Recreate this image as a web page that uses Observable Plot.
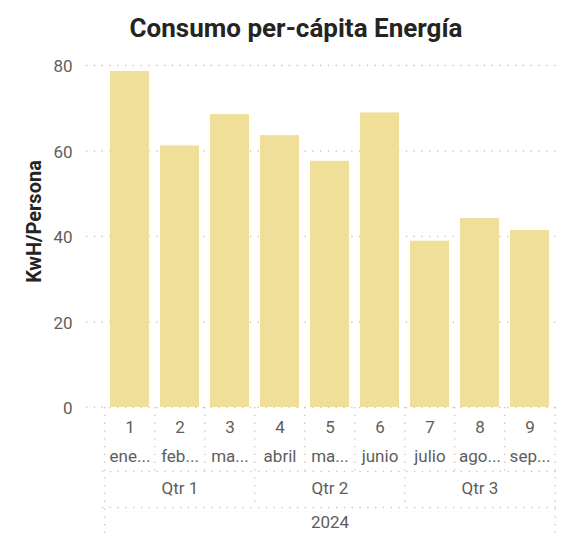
<!DOCTYPE html>
<html>
<head>
<meta charset="utf-8">
<script src="https://cdn.jsdelivr.net/npm/d3@7"></script>
<script src="https://cdn.jsdelivr.net/npm/@observablehq/plot@0.6"></script>
<style>
  html, body { margin: 0; padding: 0; background: #fff; }
  body { width: 576px; height: 537px; overflow: hidden; font-family: Roboto, "Noto Sans", sans-serif; }
  #title { position: relative; height: 48px; }
  #title span { position: absolute; left: 296px; top: 13px; transform: translateX(-50%); white-space: nowrap;
    font-size: 26px; font-weight: bold; color: #252423; line-height: 30px; }
  #chart svg { display: block; }
</style>
</head>
<body>
<div id="title"><span>Consumo per-cápita Energía</span></div>
<div id="chart"></div>
<script>
const months = [1, 2, 3, 4, 5, 6, 7, 8, 9];
const monthNames = ["ene...", "feb...", "ma...", "abril", "ma...", "junio", "julio", "ago...", "sep..."];
const values = [78.6, 61.2, 68.5, 63.6, 57.6, 68.9, 38.9, 44.2, 41.4];
const quarterLabels = ["Qtr 1", "Qtr 2", "Qtr 3"];
const quarterCenters = [2, 5, 8];
const quarterBreaks = [4, 7];
const yearLabel = "2024";
const yTicks = [0, 20, 40, 60, 80];
const yTitle = "KwH/Persona";

const data = months.map((m, i) => ({month: m, name: monthNames[i], value: values[i]}));

const W = 576, H = 489, mL = 102, mR = 19, mT = 17, mB = 130;
const step = (W - mL - mR) / months.length;
const frameH = H - mT - mB;

const gridColor = "#C8C6C4";
const dash = "1.3,6.5";
const labelColor = "#605E5C";

const chart = Plot.plot({
  width: W,
  height: H,
  marginLeft: mL,
  marginRight: mR,
  marginTop: mT,
  marginBottom: mB,
  style: {fontFamily: "Roboto, 'Noto Sans', sans-serif", background: "#fff"},
  x: {domain: months, paddingInner: 0.22, paddingOuter: 0.11, axis: null},
  y: {domain: [0, 80], axis: null},
  marks: [
    // gridlines
    Plot.ruleY(yTicks, {stroke: gridColor, strokeWidth: 1.3, strokeDasharray: dash, insetLeft: -16}),
    // bars
    Plot.barY(data, {x: "month", y: "value", fill: "#EFDF98"}),
    // y tick labels
    Plot.text(yTicks, {y: d => d, frameAnchor: "left", dx: -30, dy: 1.5, textAnchor: "end", text: d => String(d), fill: labelColor, fontSize: 17}),
    // y title
    Plot.text([yTitle], {frameAnchor: "left", textAnchor: "middle", dx: -68, dy: -15, rotate: -90, fontSize: 20, fontWeight: "bold", fill: "#252423"}),
    // month separators (internal)
    Plot.ruleX(months.filter(m => m !== 1 && !quarterBreaks.includes(m)), {x: d => d, dx: -step / 2, insetTop: frameH, insetBottom: -64, stroke: gridColor, strokeWidth: 1.3, strokeDasharray: dash}),
    // quarter separators
    Plot.ruleX(quarterBreaks, {x: d => d, dx: -step / 2, insetTop: frameH, insetBottom: -100, stroke: gridColor, strokeWidth: 1.3, strokeDasharray: dash}),
    // outer boundaries
    Plot.ruleX([months[0]], {x: d => d, dx: -step / 2, insetTop: frameH, insetBottom: -mB, stroke: gridColor, strokeWidth: 1.3, strokeDasharray: dash}),
    Plot.ruleX([months[months.length - 1]], {x: d => d, dx: step / 2, insetTop: frameH, insetBottom: -mB, stroke: gridColor, strokeWidth: 1.3, strokeDasharray: dash}),
    // horizontal separators
    Plot.ruleY([0], {dy: 64, stroke: gridColor, strokeWidth: 1.3, strokeDasharray: dash}),
    Plot.ruleY([0], {dy: 100, stroke: gridColor, strokeWidth: 1.3, strokeDasharray: dash}),
    // x labels: month numbers
    Plot.text(data, {x: "month", text: d => String(d.month), frameAnchor: "bottom", dy: 25, fill: labelColor, fontSize: 17}),
    // month names
    Plot.text(data, {x: "month", text: "name", frameAnchor: "bottom", dy: 54, fill: labelColor, fontSize: 17}),
    // quarters
    Plot.text(quarterLabels, {x: (d, i) => quarterCenters[i], text: d => d, frameAnchor: "bottom", dy: 86, fill: labelColor, fontSize: 17}),
    // year
    Plot.text([yearLabel], {x: () => months[4], text: d => d, frameAnchor: "bottom", dy: 120, fill: labelColor, fontSize: 17})
  ]
});
document.getElementById("chart").appendChild(chart);
</script>
</body>
</html>
